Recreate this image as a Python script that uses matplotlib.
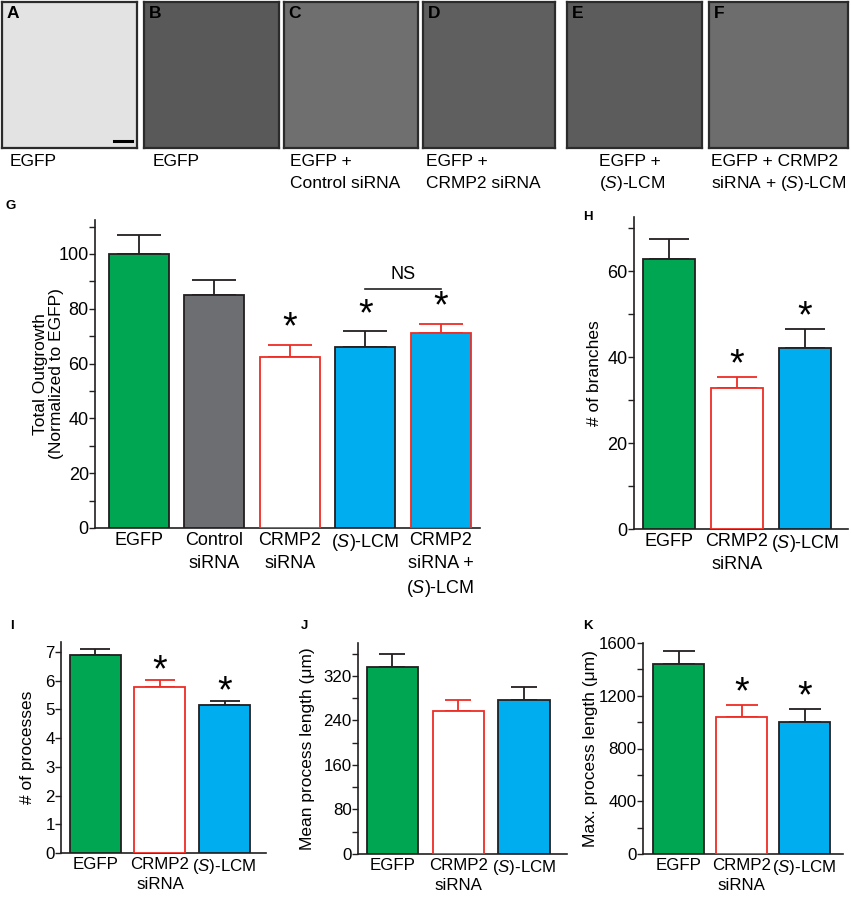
import matplotlib
matplotlib.use("Agg")
import matplotlib.pyplot as plt
from matplotlib.ticker import MultipleLocator, NullLocator

plt.rcParams['font.family'] = ['Liberation Sans', 'DejaVu Sans']
plt.rcParams['mathtext.fontset'] = 'custom'
plt.rcParams['mathtext.rm'] = 'Liberation Sans'
plt.rcParams['mathtext.it'] = 'Liberation Sans:italic'

# ---------------- data ----------------
LCM = r'($\mathit{S}$)-LCM'
image_letters = ['A', 'B', 'C', 'D', 'E', 'F']
image_captions = ['EGFP', 'EGFP', 'EGFP +\nControl siRNA', 'EGFP +\nCRMP2 siRNA',
                  'EGFP +\n' + LCM, 'EGFP + CRMP2\nsiRNA + ' + LCM]

g_cats = ['EGFP', 'Control\nsiRNA', 'CRMP2\nsiRNA', LCM, 'CRMP2\nsiRNA +\n' + LCM]
g_vals = [100, 85, 62.5, 66.2, 71.3]
g_errs = [6.8, 5.5, 4.4, 5.7, 3.3]
g_star = [False, False, True, True, True]

three_cats = ['EGFP', 'CRMP2\nsiRNA', LCM]
h_vals = [62.9, 32.7, 42.2]
h_errs = [4.5, 2.6, 4.3]
h_star = [False, True, True]

i_vals = [6.91, 5.78, 5.14]
i_errs = [0.18, 0.24, 0.14]
i_star = [False, True, True]

j_vals = [335, 256, 276]
j_errs = [24.6, 21, 24]
j_star = [False, False, False]

k_vals = [1438, 1036, 998]
k_errs = [101, 95, 98]
k_star = [False, True, True]

# ---------------- style ----------------
GREEN = '#00A651'
GRAY = '#6D6E71'
BLUE = '#00AEEF'
RED = '#EE2D24'
BLACK = '#231F20'
g_fill = [GREEN, GRAY, 'white', BLUE, BLUE]
g_edge = [BLACK, BLACK, RED, BLACK, RED]
t_fill = [GREEN, 'white', BLUE]
t_edge = [BLACK, RED, BLACK]

W, H = 851, 899
fig = plt.figure(figsize=(W / 100, H / 100), dpi=100)
PX = 0.72  # points per pixel


def add_ax(x0, y0, x1, y1):
    return fig.add_axes([x0 / W, 1 - y1 / H, (x1 - x0) / W, (y1 - y0) / H])


def ftext(x, y, s, **kw):
    fig.text(x / W, 1 - y / H, s, **kw)


# ---------------- image panels ----------------
img_boxes = [(2, 2, 137, 148), (144, 2, 279, 148), (284, 2, 418, 148),
             (423, 2, 555, 148), (567, 2, 702, 148), (709, 2, 848, 148)]
img_bg = ['#e3e3e3', '#595959', '#6f6f6f', '#5f5f5f', '#5c5c5c', '#6d6d6d']
caption_x = [10, 153, 290, 426, 599, 711]
for k, box in enumerate(img_boxes):
    ax = add_ax(*box)
    ax.set_facecolor(img_bg[k])
    ax.set_xticks([])
    ax.set_yticks([])
    for sp in ax.spines.values():
        sp.set_color('#2b2b2b')
        sp.set_linewidth(1.6)
    ax.text(0.035, 0.975, image_letters[k], transform=ax.transAxes, ha='left', va='top',
            fontsize=12.5, fontweight='bold', color='black')
    lines = image_captions[k].split('\n')
    for li, s in enumerate(lines):
        ftext(caption_x[k], 166 + 22 * li, s, fontsize=12.5, ha='left', va='baseline')
    if k == 0:
        ax.plot([0.83, 0.96], [0.045, 0.045], transform=ax.transAxes, color='black', lw=2.2)


# ---------------- bar panels ----------------
def bar_panel(box, cats, vals, errs, fills, edges, stars, ylim, major, minor, xlim, width,
              capsize_px, ylabel, ylabel_right, letter, letter_xy, star_off_px=12, fs=12.5):
    ax = add_ax(*box)
    x = list(range(len(vals)))
    ax.bar(x, vals, width=width, color=fills, edgecolor=edges, linewidth=1.3, zorder=3)
    for xi, v, e, ec in zip(x, vals, errs, edges):
        ax.errorbar([xi], [v], yerr=[[0], [e]], fmt='none', ecolor=ec, elinewidth=1.3,
                    capsize=capsize_px * PX, capthick=1.3, zorder=2)
    for xi, v, e, s in zip(x, vals, errs, stars):
        if s:
            ax.annotate('*', xy=(xi, v + e), xytext=(0, star_off_px * PX),
                        textcoords='offset points', ha='center', va='center',
                        fontsize=27, color='black', zorder=5)
    ax.set_xlim(*xlim)
    ax.set_ylim(*ylim)
    ax.spines['top'].set_visible(False)
    ax.spines['right'].set_visible(False)
    for sp in ('left', 'bottom'):
        ax.spines[sp].set_linewidth(1.2)
        ax.spines[sp].set_color(BLACK)
    ax.yaxis.set_major_locator(MultipleLocator(major))
    if minor:
        ax.yaxis.set_minor_locator(MultipleLocator(minor))
    else:
        ax.yaxis.set_minor_locator(NullLocator())
    ax.tick_params(axis='y', which='both', direction='out', length=4, width=1.0,
                   labelsize=fs, pad=0.5, colors=BLACK, labelcolor='black')
    ax.set_xticks(x)
    ax.set_xticklabels(cats, fontsize=fs, linespacing=1.42)
    ax.tick_params(axis='x', length=0, pad=3)
    ax.set_ylabel(ylabel, fontsize=12.5, linespacing=1.05)
    bx0, by0, bx1, by1 = box
    ax.yaxis.set_label_coords((ylabel_right - bx0) / (bx1 - bx0), 0.5)
    ftext(letter_xy[0], letter_xy[1], letter, fontsize=9.5, fontweight='bold',
          ha='left', va='top')
    return ax


axG = bar_panel((95, 220, 480, 528), g_cats, g_vals, g_errs, g_fill, g_edge, g_star,
                (0, 112.4), 20, 10, (-0.58, 4.52), 0.8, 22,
                'Total Outgrowth\n(Normalized to EGFP)', 64, 'G', (6, 200),
                star_off_px=16, fs=13)
# NS bracket
axG.plot([3, 4], [87.1, 87.1], color=BLACK, lw=1.2)
axG.text(3.5, 89.5, 'NS', ha='center', va='bottom', fontsize=13)

bar_panel((634, 217, 848, 529), three_cats, h_vals, h_errs, t_fill, t_edge, h_star,
          (0, 72.6), 20, 10, (-0.51, 2.63), 0.77, 20,
          '# of branches', 602, 'H', (583, 211), fs=13)

bar_panel((61, 642, 266, 853), three_cats, i_vals, i_errs, t_fill, t_edge, i_star,
          (0, 7.35), 1, None, (-0.53, 2.64), 0.79, 15,
          '# of processes', 35, 'I', (10, 620), star_off_px=9, fs=12.2)

bar_panel((358, 643, 567, 854), three_cats, j_vals, j_errs, t_fill, t_edge, j_star,
          (0, 379), 80, 40, (-0.52, 2.65), 0.78, 13,
          'Mean process length (μm)', 315, 'J', (301, 620), fs=12.2)

bar_panel((643, 643, 843, 854), three_cats, k_vals, k_errs, t_fill, t_edge, k_star,
          (0, 1600), 400, 200, (-0.57, 2.61), 0.81, 16,
          'Max. process length (μm)', 598, 'K', (583, 620), fs=12.2)

fig.savefig('out.png', dpi=100)
